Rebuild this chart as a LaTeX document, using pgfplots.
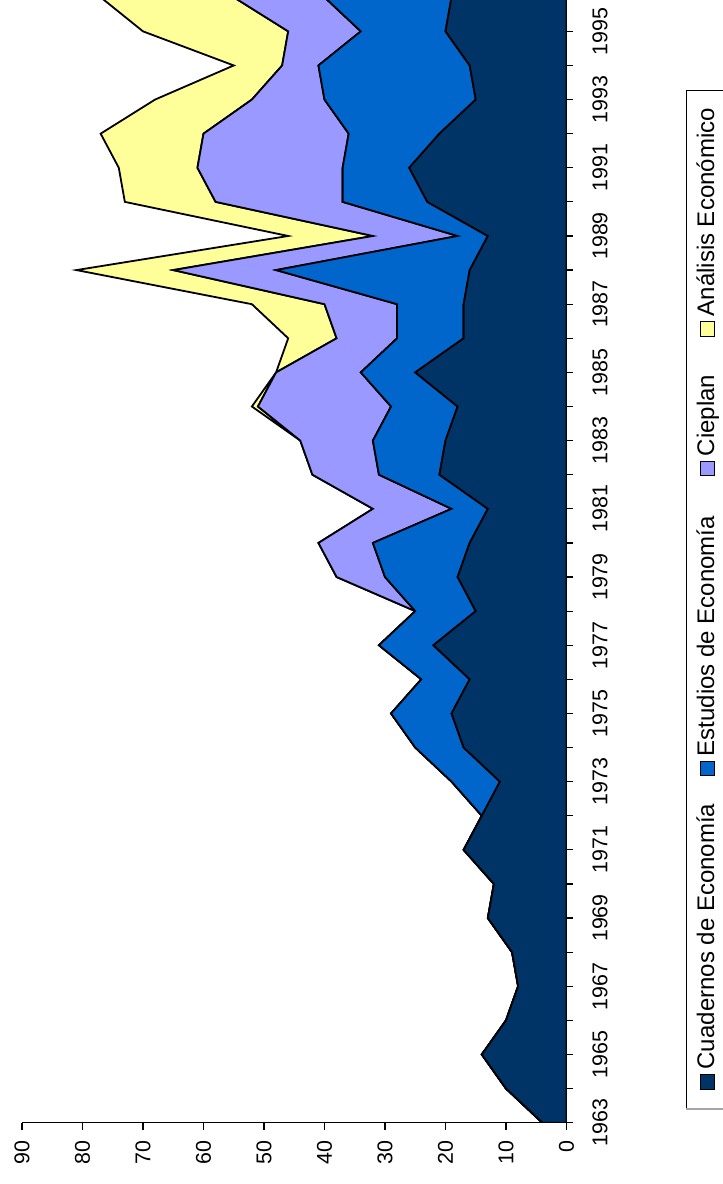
\documentclass[border=0pt]{standalone}
\usepackage{fontspec}
\setmainfont{Liberation Sans}
\usepackage{pgfplots}
\usepackage{pgfplotstable}
\pgfplotsset{compat=1.18}

\definecolor{cuad}{RGB}{0,51,102}
\definecolor{estu}{RGB}{0,102,204}
\definecolor{ciep}{RGB}{153,153,255}
\definecolor{anal}{RGB}{255,255,153}

% articulos por revista y anio
\pgfplotstableread{
year base cua est cie ana
1963 0 4 0 0 0
1964 0 10 0 0 0
1965 0 14 0 0 0
1966 0 10 0 0 0
1967 0 8 0 0 0
1968 0 9 0 0 0
1969 0 13 0 0 0
1970 0 12 0 0 0
1971 0 17 0 0 0
1972 0 14 0 0 0
1973 0 11 8 0 0
1974 0 17 8 0 0
1975 0 19 10 0 0
1976 0 16 8 0 0
1977 0 22 9 0 0
1978 0 15 10 0 0
1979 0 18 12 8 0
1980 0 16 16 9 0
1981 0 13 6 13 0
1982 0 21 10 11 0
1983 0 20 12 12 0
1984 0 18 11 22 1
1985 0 25 9 14 0
1986 0 17 11 10 8
1987 0 17 11 12 12
1988 0 16 32 17 16
1989 0 13 5 14 14
1990 0 23 14 21 15
1991 0 26 11 24 13
1992 0 21 15 24 17
1993 0 15 25 12 16
1994 0 16 25 6 8
1995 0 20 14 12 24
1996 0 19 21 15 22
}\revistas

\newcommand{\sq}[1]{{\setlength{\fboxsep}{0pt}\setlength{\fboxrule}{0.5pt}\fcolorbox{black}{#1}{\rule{0pt}{6.6pt}\rule{6.6pt}{0pt}}}}
\newcommand{\legfont}{\fontsize{12}{14}\selectfont}

\begin{document}
\begin{tikzpicture}
\begin{axis}[
    scale only axis,
    width=272.25pt, height=561.35pt,
    x dir=reverse,
    xmin=0, xmax=90,
    ymin=1963, ymax=1995.92,
    axis x line*=bottom,
    axis y line*=right,
    axis line style={black, line width=0.6pt},
    stack plots=x,
    clip mode=individual,
    xtick={0,10,...,90},
    ytick={1963,1965,...,1995},
    minor ytick={1964,1966,...,1996},
    tick align=outside,
    major tick length=3.5pt, minor tick length=3.5pt,
    tick style={black, line width=0.6pt},
    tick label style={font=\fontsize{10.7}{12}\selectfont},
    /pgf/number format/assume math mode=true,
    xticklabel style={rotate=90, anchor=east},
    yticklabel style={rotate=90, anchor=north, /pgf/number format/1000 sep=},
    xticklabel shift=2pt,
    yticklabel shift=6pt,
]
\addplot[draw=none, forget plot] table[x=base, y=year]{\revistas};
\addplot[draw=black, line width=0.9pt, fill=cuad] table[x=cua, y=year]{\revistas} \closedcycle;
\addplot[draw=black, line width=0.9pt, fill=estu] table[x=est, y=year]{\revistas} \closedcycle;
\addplot[draw=black, line width=0.9pt, fill=ciep] table[x=cie, y=year]{\revistas} \closedcycle;
\addplot[draw=black, line width=0.9pt, fill=anal] table[x=ana, y=year]{\revistas} \closedcycle;

\coordinate (bl) at (axis cs:90,1963);
\coordinate (tr) at (axis cs:0,1995.92);

% leyenda
\draw[gray!70, line width=1.2pt] (axis cs:-19.77,1963.41) -- (axis cs:-32,1963.41);
\draw[black, line width=0.5pt] (axis cs:-32,1963.43) -- (axis cs:-19.77,1963.43) -- (axis cs:-19.77,1993.26) -- (axis cs:-32,1993.26);
\node[rotate=90, anchor=base west, inner sep=0pt, font=\legfont] at (axis cs:-24.40,1963.96) {\sq{cuad}\hspace{2.5pt}Cuadernos de Economía};
\node[rotate=90, anchor=base west, inner sep=0pt, font=\legfont] at (axis cs:-24.40,1973.14) {\sq{estu}\hspace{2.5pt}Estudios de Economía};
\node[rotate=90, anchor=base west, inner sep=0pt, font=\legfont] at (axis cs:-24.40,1981.94) {\sq{ciep}\hspace{2.5pt}Cieplan};
\node[rotate=90, anchor=base west, inner sep=0pt, font=\legfont] at (axis cs:-24.40,1986.04) {\sq{anal}\hspace{2.5pt}Análisis Económico};
\end{axis}
\pgfresetboundingbox
\path[use as bounding box] ([shift={(-11pt,-30.65pt)}]bl) rectangle ([shift={(78.25pt,0pt)}]tr);
\end{tikzpicture}
\end{document}
